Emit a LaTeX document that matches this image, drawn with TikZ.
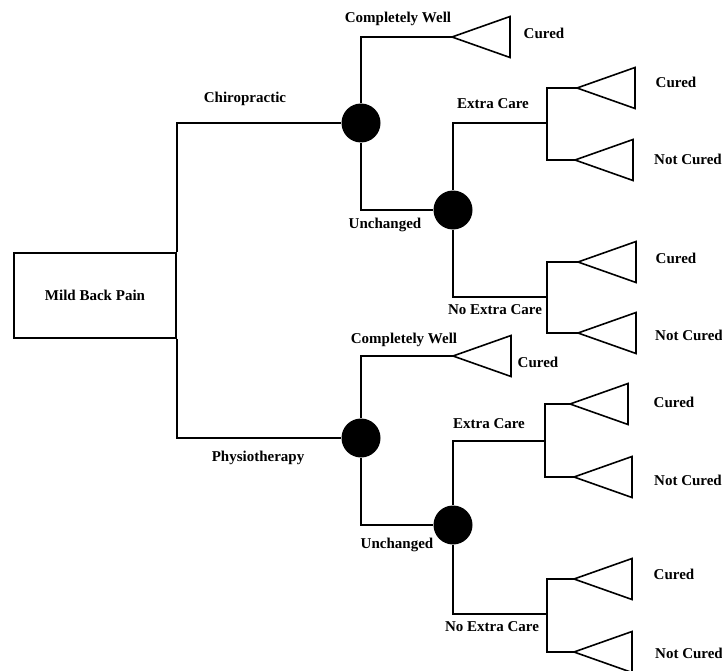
\documentclass[tikz,border=0pt]{standalone}
\usepackage{fontspec}
\setmainfont{Liberation Serif}
\begin{document}
\begin{tikzpicture}[x=1pt,y=-1pt,line width=1.6pt,
  chance/.style={circle, fill, inner sep=0pt, minimum size=39pt},
  lbl/.style={font=\fontsize{15}{18}\selectfont\bfseries, inner sep=0pt},
  rootbox/.style={draw, lbl, minimum width=162pt, minimum height=85pt},
  outcome/.pic={\draw[line join=miter] (0,0) -- (58,-20.5) -- (58,20.5) -- cycle;}]
\useasboundingbox (0,0) rectangle (722,671);
\node[rootbox] (root) at (95,295.5) {Mild Back Pain};
% upper branch
\node[chance] (cid1) at (361,123) {};
\node[chance] (cid2) at (453,210) {};
\coordinate (tip1) at (452,37);
\coordinate (jec1) at (547,123);
\coordinate (jne1) at (547,297);
\coordinate (tip2) at (577,88);
\coordinate (tip3) at (575,160);
\coordinate (tip4) at (578,262);
\coordinate (tip5) at (578,333);
\draw (cid1) -| (root.north east);
\draw (cid1) |- (tip1);
\draw (cid1) |- (cid2);
\draw (cid2) |- (jec1);
\draw (cid2) |- (jne1);
\draw (jec1) |- (tip2);
\draw (jec1) |- (tip3);
\draw (jne1) |- (tip4);
\draw (jne1) |- (tip5);
\pic at (tip1) {outcome};
\pic at (tip2) {outcome};
\pic at (tip3) {outcome};
\pic at (tip4) {outcome};
\pic at (tip5) {outcome};
\node[lbl] (chiro) at (245,99) {Chiropractic};
\node[lbl] (well1) at (398,19) {Completely Well};
\node[lbl] (unch1) at (385,225) {Unchanged};
\node[lbl] (extra1) at (493,104) {Extra Care};
\node[lbl] (noext1) at (495,310) {No Extra Care};
\node[lbl] (res1) at (544,33) {Cured};
\node[lbl] (res2) at (676,82) {Cured};
\node[lbl] (res3) at (688,159) {Not Cured};
\node[lbl] (res4) at (676,258) {Cured};
\node[lbl] (res5) at (689,335) {Not Cured};
% lower branch
\node[chance] (cid3) at (361,438) {};
\node[chance] (cid4) at (453,525) {};
\coordinate (tip6) at (453,356);
\coordinate (jec2) at (545,441);
\coordinate (jne2) at (547,614);
\coordinate (tip7) at (570,404);
\coordinate (tip8) at (574,477);
\coordinate (tip9) at (574,579);
\coordinate (tip10) at (574,652);
\draw (root.south east) |- (cid3);
\draw (cid3) |- (tip6);
\draw (cid3) |- (cid4);
\draw (cid4) |- (jec2);
\draw (cid4) |- (jne2);
\draw (jec2) |- (tip7);
\draw (jec2) |- (tip8);
\draw (jne2) |- (tip9);
\draw (jne2) |- (tip10);
\pic at (tip6) {outcome};
\pic at (tip7) {outcome};
\pic at (tip8) {outcome};
\pic at (tip9) {outcome};
\pic at (tip10) {outcome};
\node[lbl] (physio) at (258,458) {Physiotherapy};
\node[lbl] (well2) at (404,340) {Completely Well};
\node[lbl] (unch2) at (397,545) {Unchanged};
\node[lbl] (extra2) at (489,424) {Extra Care};
\node[lbl] (noext2) at (492,627) {No Extra Care};
\node[lbl] (res6) at (538,362) {Cured};
\node[lbl] (res7) at (674,402) {Cured};
\node[lbl] (res8) at (688,480) {Not Cured};
\node[lbl] (res9) at (674,574) {Cured};
\node[lbl] (res10) at (689,653) {Not Cured};
\end{tikzpicture}
\end{document}
